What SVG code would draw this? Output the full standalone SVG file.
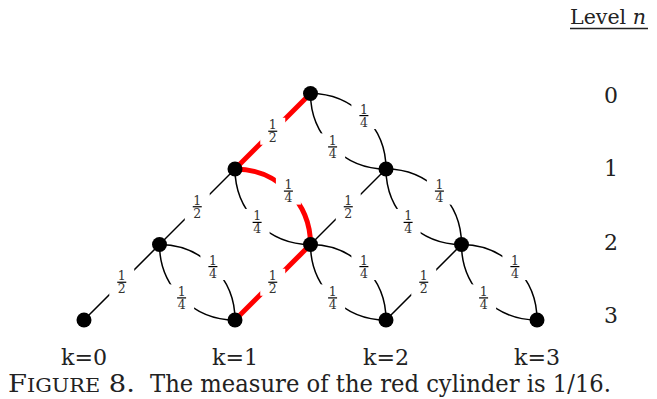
<svg xmlns="http://www.w3.org/2000/svg" width="657" height="399" viewBox="0 0 657 399">
<style>
.e{fill:none;stroke:#000;stroke-width:1.5}
.r{fill:none;stroke:#f00;stroke-width:5}
.bx{fill:#fff;stroke:none}
.fr{font-family:'DejaVu Serif',serif;font-size:12.5px;fill:#333;text-anchor:middle}
.bar{stroke:#000;stroke-width:1.2}
.nd{fill:#000}
.t{font-family:'DejaVu Serif',serif;fill:#222}
.lv{font-size:22px;text-anchor:middle}
.k{font-size:23px;text-anchor:middle}
</style>
<defs>
<g id="f4"><rect class="bx" x="-12.5" y="-13.5" width="25" height="27"/><text class="fr" y="-2">1</text><line class="bar" x1="-4.5" x2="4.5" y1="0" y2="0"/><text class="fr" y="11">4</text></g>
<g id="f2"><rect class="bx" x="-12.5" y="-13.5" width="25" height="27"/><text class="fr" y="-2">1</text><line class="bar" x1="-4.5" x2="4.5" y1="0" y2="0"/><text class="fr" y="11">2</text></g>
</defs>
<g id="connectors">
<path class="r" d="M310.5,93.5 L235,169"/>
<path class="e" d="M310.5,93.5 C352.5,93.5 386,127 386,169"/>
<path class="e" d="M310.5,93.5 C310.5,135.5 344,169 386,169"/>
<path class="e" d="M235,169 L159.5,244.5"/>
<path class="r" d="M235,169 C277,169 310.5,202.5 310.5,244.5"/>
<path class="e" d="M235,169 C235,211 268.5,244.5 310.5,244.5"/>
<path class="e" d="M386,169 L310.5,244.5"/>
<path class="e" d="M386,169 C428,169 461.5,202.5 461.5,244.5"/>
<path class="e" d="M386,169 C386,211 419.5,244.5 461.5,244.5"/>
<path class="e" d="M159.5,244.5 L84,320"/>
<path class="e" d="M159.5,244.5 C201.5,244.5 235,278 235,320"/>
<path class="e" d="M159.5,244.5 C159.5,286.5 193,320 235,320"/>
<path class="r" d="M310.5,244.5 L235,320"/>
<path class="e" d="M310.5,244.5 C352.5,244.5 386,278 386,320"/>
<path class="e" d="M310.5,244.5 C310.5,286.5 344,320 386,320"/>
<path class="e" d="M461.5,244.5 L386,320"/>
<path class="e" d="M461.5,244.5 C503.5,244.5 537,278 537,320"/>
<path class="e" d="M461.5,244.5 C461.5,286.5 495,320 537,320"/>
</g>
<g id="labels">
<use href="#f2" x="272.75" y="131.25"/>
<use href="#f4" x="363.9" y="115.6"/>
<use href="#f4" x="332.6" y="146.9"/>
<use href="#f2" x="197.25" y="206.75"/>
<use href="#f4" x="288.4" y="191.1"/>
<use href="#f4" x="257.1" y="222.4"/>
<use href="#f2" x="348.25" y="206.75"/>
<use href="#f4" x="439.4" y="191.1"/>
<use href="#f4" x="408.1" y="222.4"/>
<use href="#f2" x="121.75" y="282.25"/>
<use href="#f4" x="212.9" y="266.6"/>
<use href="#f4" x="181.6" y="297.9"/>
<use href="#f2" x="272.75" y="282.25"/>
<use href="#f4" x="363.9" y="266.6"/>
<use href="#f4" x="332.6" y="297.9"/>
<use href="#f2" x="423.75" y="282.25"/>
<use href="#f4" x="514.9" y="266.6"/>
<use href="#f4" x="483.6" y="297.9"/>
</g>
<g id="n0k0"><circle class="nd" cx="310.5" cy="93.5" r="7.5"/></g>
<g id="n1k0"><circle class="nd" cx="235" cy="169" r="7.5"/></g>
<g id="n1k1"><circle class="nd" cx="386" cy="169" r="7.5"/></g>
<g id="n2k0"><circle class="nd" cx="159.5" cy="244.5" r="7.5"/></g>
<g id="n2k1"><circle class="nd" cx="310.5" cy="244.5" r="7.5"/></g>
<g id="n2k2"><circle class="nd" cx="461.5" cy="244.5" r="7.5"/></g>
<g id="n3k0"><circle class="nd" cx="84" cy="320" r="7.5"/></g>
<g id="n3k1"><circle class="nd" cx="235" cy="320" r="7.5"/></g>
<g id="n3k2"><circle class="nd" cx="386" cy="320" r="7.5"/></g>
<g id="n3k3"><circle class="nd" cx="537" cy="320" r="7.5"/></g>
<g id="level-labels">
<text class="t" x="570" y="24" font-size="21" textLength="76" lengthAdjust="spacingAndGlyphs">Level <tspan font-style="italic">n</tspan></text>
<line x1="570" y1="28.5" x2="648" y2="28.5" stroke="#222" stroke-width="1.5"/>
<text class="t lv" x="611" y="102.5">0</text>
<text class="t lv" x="611" y="176">1</text>
<text class="t lv" x="611" y="249.5">2</text>
<text class="t lv" x="611" y="323">3</text>
</g>
<g id="k-labels">
<text class="t k" x="84" y="365" textLength="46" lengthAdjust="spacingAndGlyphs">k=0</text>
<text class="t k" x="235" y="365" textLength="46" lengthAdjust="spacingAndGlyphs">k=1</text>
<text class="t k" x="386" y="365" textLength="46" lengthAdjust="spacingAndGlyphs">k=2</text>
<text class="t k" x="537" y="365" textLength="46" lengthAdjust="spacingAndGlyphs">k=3</text>
</g>
<g id="caption">
<text class="t" x="8" y="392" font-size="25" textLength="127" lengthAdjust="spacingAndGlyphs">F<tspan font-size="19">IGURE</tspan> 8.</text>
<text class="t" x="150" y="392" font-size="25" textLength="461" lengthAdjust="spacingAndGlyphs">The measure of the red cylinder is 1/16.</text>
</g>
</svg>
